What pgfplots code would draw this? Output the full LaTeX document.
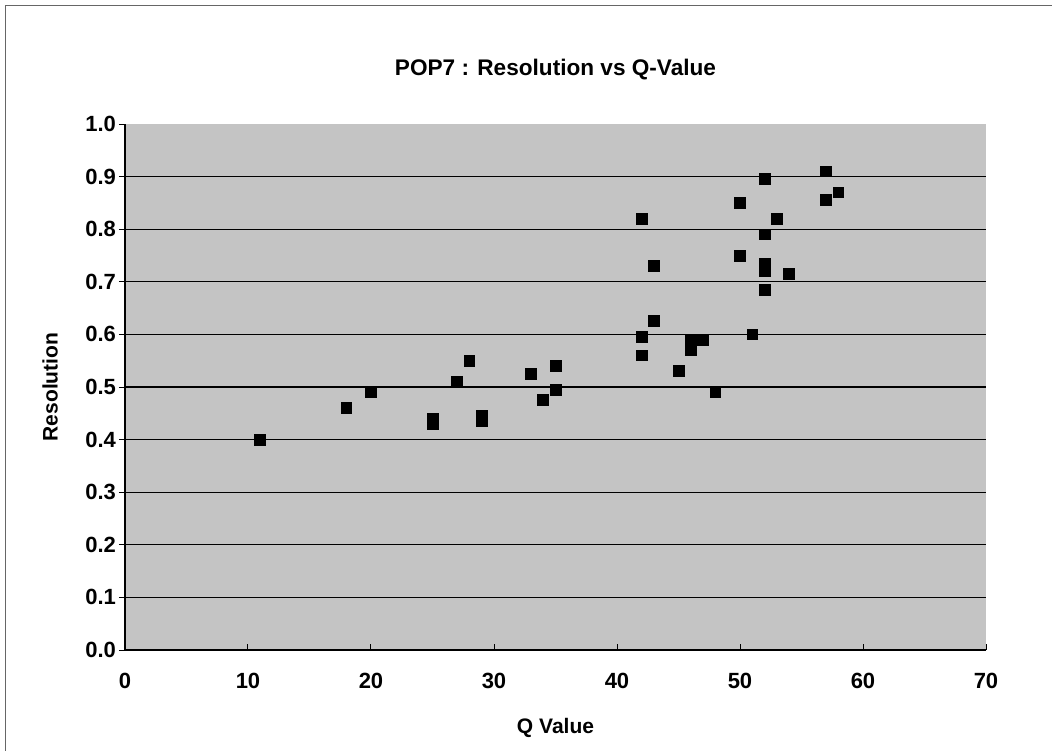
\documentclass[border=0pt]{standalone}
\usepackage{fontspec}
\setmainfont{Liberation Sans}
\usepackage{pgfplots}
\pgfplotsset{compat=1.18}
\begin{document}
\begin{tikzpicture}
\begin{axis}[
  scale only axis,
  width=430.5pt, height=263pt,
  xmin=0, xmax=70, ymin=0, ymax=1.0,
  axis x line*=bottom, axis y line*=left,
  xtick={0,10,...,70},
  ytick={0.1,0.2,...,0.9},
  extra y ticks={0,1.0},
  extra y tick style={grid=none},
  axis background/.style={fill=black!23},
  ymajorgrids, grid style={black, line width=0.6pt},
  axis line style={black, line width=0.6pt, -},
  tick style={black, line width=0.5pt},
  major tick length=3pt,
  tick align=inside,
  y tick style={xshift=-3pt},
  /pgf/number format/assume math mode=true,
  ticklabel style={font=\fontsize{11}{13}\selectfont\bfseries},
  yticklabel style={/pgf/number format/fixed, /pgf/number format/fixed zerofill, /pgf/number format/precision=1, xshift=-1pt},
  xticklabel style={yshift=-8pt},
  xlabel={Q Value}, ylabel={Resolution},
  label style={font=\fontsize{10.5}{12}\selectfont\bfseries},
  xlabel style={at={(axis description cs:0.5,0)}, anchor=center, yshift=-39pt},
  ylabel style={at={(axis description cs:-0.087,0.5)}, anchor=center},
  title={POP7 : Resolution vs Q-Value},
  title style={font=\fontsize{11.3}{13}\selectfont\bfseries, at={(axis description cs:0.5,1)}, anchor=center, yshift=21pt},
]
\addplot[only marks, mark=square*, mark size=2.7pt, mark options={fill=black, draw=black}] coordinates {
(11,0.40) (18,0.46) (20,0.49) (25,0.44) (25,0.43) (27,0.51) (28,0.55)
(29,0.445) (29,0.435) (33,0.525) (34,0.475) (35,0.54) (35,0.495)
(42,0.82) (42,0.595) (42,0.56) (43,0.73) (43,0.625) (45,0.53)
(46,0.59) (46,0.57) (47,0.59) (48,0.49) (50,0.85) (50,0.75) (51,0.60)
(52,0.895) (52,0.79) (52,0.735) (52,0.72) (52,0.685) (53,0.82) (54,0.715)
(57,0.91) (57,0.855) (58,0.87)
};
\coordinate (sw) at (rel axis cs:0,0);
\coordinate (ne) at (rel axis cs:1,1);
\coordinate (nw) at (rel axis cs:0,1);
\end{axis}
\pgfresetboundingbox
\useasboundingbox ([shift={(-62.5pt,-50.5pt)}]sw) rectangle ([shift={(33pt,62pt)}]ne);
\draw[black!60, line width=0.5pt] ([shift={(-60pt,59.5pt)}]nw) -- ([shift={(33pt,59.5pt)}]ne);
\draw[black!60, line width=0.4pt] ([shift={(-60pt,59.5pt)}]nw) -- ([shift={(-60pt,-50.5pt)}]sw);
\end{tikzpicture}
\end{document}
